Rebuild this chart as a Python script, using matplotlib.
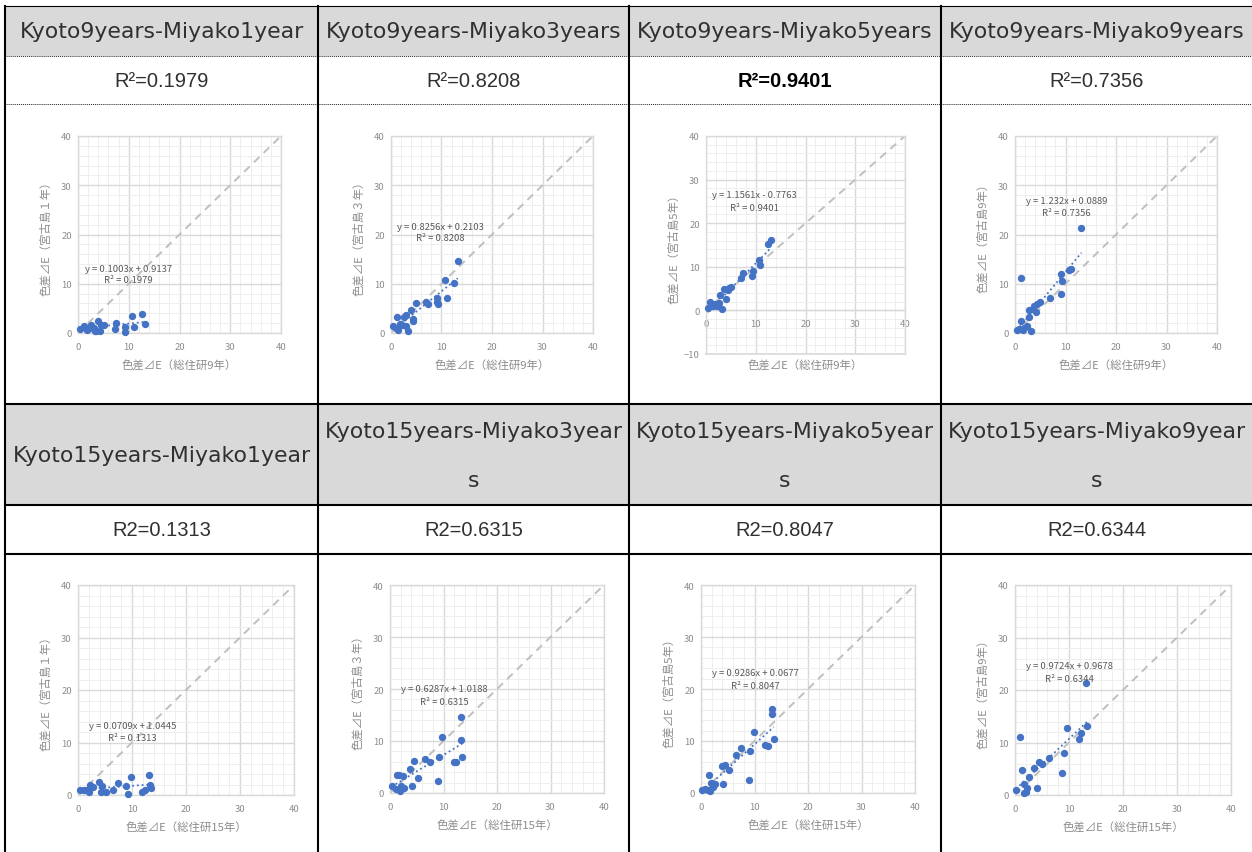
"""
Bảng so sánh màu sắc ΔE: Kyoto (9 năm / 15 năm) và Miyako (1, 3, 5, 9 năm).
Vẽ lại bảng 2 hàng x 4 cột, mỗi ô có biểu đồ tán xạ + đường xu hướng.
"""

import numpy as np
import matplotlib
matplotlib.use("Agg")
import matplotlib.pyplot as plt

plt.rcParams["font.family"] = ["Noto Sans CJK JP", "DejaVu Sans"]

W, H = 1252, 853

# --- Table text ---
HEADERS_TOP = ["Kyoto9years-Miyako1year", "Kyoto9years-Miyako3years",
               "Kyoto9years-Miyako5years", "Kyoto9years-Miyako9years"]
HEADERS_BOTTOM = [["Kyoto15years-Miyako1year"],
                  ["Kyoto15years-Miyako3year", "s"],
                  ["Kyoto15years-Miyako5year", "s"],
                  ["Kyoto15years-Miyako9year", "s"]]
R2_TOP = ["R²=0.1979", "R²=0.8208", "R²=0.9401", "R²=0.7356"]
R2_BOTTOM = ["R2=0.1313", "R2=0.6315", "R2=0.8047", "R2=0.6344"]

# --- Chart data ---
K9_M1_X = [0.33, 1.2, 1.5, 1.8, 2.3, 2.6, 3.2, 3.3, 3.6, 3.9, 4.3, 4.5, 5.1,
           7.2, 7.4, 9.3, 9.3, 10.7, 11.05, 12.6, 13.2]
K9_M1_Y = [0.8, 1.35, 1.0, 0.7, 1.1, 1.6, 1.1, 0.5, 0.5, 2.4, 0.5, 1.6, 1.7,
           0.8, 2.1, 1.2, 0.3, 3.4, 1.3, 3.9, 1.9]

K9_M3_X = [0.46, 0.9, 1.25, 1.45, 1.7, 2.2, 2.6, 2.9, 2.9, 3.3, 3.9, 4.3, 4.3,
           5.0, 6.9, 7.4, 9.2, 9.2, 9.35, 10.7, 11.05, 12.5, 13.2]
K9_M3_Y = [1.35, 1.1, 3.25, 0.7, 1.9, 1.55, 3.25, 3.6, 1.35, 0.4, 4.6, 2.9, 2.4,
           6.15, 6.3, 5.95, 7.1, 6.2, 5.95, 10.7, 7.04, 10.15, 14.6]

K9_M5_X = [0.33, 0.87, 1.34, 1.8, 2.2, 2.7, 2.8, 3.2, 3.7, 4.0, 4.35, 4.7, 5.0,
           7.0, 7.4, 9.2, 9.4, 10.6, 10.9, 12.5, 13.1]
K9_M5_Y = [0.6, 1.85, 0.9, 1.4, 0.9, 1.75, 3.45, 0.25, 5.0, 2.6, 4.6, 5.15, 5.3,
           7.5, 8.5, 7.9, 9.05, 11.6, 10.35, 15.2, 16.1]

K9_M9_X = [0.33, 0.86, 1.2, 1.2, 1.5, 1.8, 2.45, 2.7, 2.8, 3.1, 3.5, 3.8, 4.2,
           4.3, 4.96, 6.9, 9.1, 9.1, 9.4, 10.6, 11.0, 13.16]
K9_M9_Y = [0.7, 0.8, 11.1, 2.4, 0.55, 1.1, 1.35, 3.25, 4.6, 0.35, 4.8, 5.4, 4.2,
           5.8, 6.2, 7.04, 11.9, 8.0, 10.55, 12.85, 13.05, 21.4]

K15_M1_X = [0.3, 1.1, 1.7, 2.0, 2.3, 2.7, 3.8, 4.2, 4.5, 5.1, 6.5, 7.4, 8.8,
            9.2, 9.8, 11.9, 12.4, 13.2, 13.3, 13.6]
K15_M1_Y = [0.9, 0.9, 1.0, 0.6, 1.9, 1.5, 2.4, 0.6, 1.8, 0.6, 0.9, 2.2, 1.7,
            0.25, 3.4, 0.6, 1.0, 3.9, 2.0, 1.3]

K15_M3_X = [0.3, 1.06, 1.37, 1.75, 1.8, 2.05, 2.37, 2.6, 3.74, 4.1, 4.4, 5.2,
            6.5, 7.4, 8.9, 9.2, 9.8, 11.9, 12.4, 13.3, 13.3, 13.5]
K15_M3_Y = [1.3, 0.77, 3.5, 3.4, 0.4, 1.4, 3.2, 1.0, 4.7, 1.3, 6.1, 2.8,
            6.5, 5.9, 2.4, 7.0, 10.8, 6.0, 5.9, 14.6, 10.1, 7.0]

K15_M5_X = [0.25, 0.75, 1.25, 1.43, 1.75, 1.87, 2.24, 2.6, 3.86, 4.17, 4.5,
            5.17, 6.5, 7.5, 9.0, 9.2, 9.84, 12.0, 12.46, 13.27, 13.27, 13.6]
K15_M5_Y = [0.64, 0.77, 0.5, 3.5, 0.4, 2.0, 1.15, 1.8, 5.1, 1.66, 5.37,
            4.47, 7.4, 8.7, 2.56, 8.0, 11.7, 9.2, 8.95, 16.1, 15.2, 10.3]

K15_M9_X = [0.19, 0.93, 1.3, 1.67, 1.67, 2.04, 2.16, 2.53, 3.52, 4.0, 4.4,
            4.94, 6.24, 8.78, 9.08, 9.7, 11.93, 12.3, 13.16, 13.4]
K15_M9_Y = [0.9, 11.05, 4.7, 2.16, 0.38, 0.63, 1.4, 3.43, 5.2, 1.4, 6.35,
            5.97, 6.98, 4.2, 8.0, 12.8, 10.67, 11.8, 21.3, 13.1]

SLOPES = [0.1003, 0.8256, 1.1561, 1.232, 0.0709, 0.6287, 0.9286, 0.9724]
INTERCEPTS = [0.9137, 0.2103, -0.7763, 0.0889, 1.0445, 1.0188, 0.0677, 0.9678]
R2_VALUES = [0.1979, 0.8208, 0.9401, 0.7356, 0.1313, 0.6315, 0.8047, 0.6344]
# equation label anchor (x, y of first line, y of second line) in data units
EQ_POS = [(9.9, 13.1, 10.9), (9.75, 21.6, 19.3), (9.8, 26.5, 23.6), (10.2, 26.9, 24.5),
          (10.1, 13.3, 10.9), (10.1, 20.0, 17.6), (10.2, 23.2, 20.6), (10.0, 24.7, 22.2)]
Y_LABELS = ["色差⊿E（宮古島１年）", "色差⊿E（宮古島３年）", "色差⊿E（宮古島5年）", "色差⊿E（宮古島9年）",
            "色差⊿E（宮古島１年）", "色差⊿E（宮古島３年）", "色差⊿E（宮古島5年）", "色差⊿E（宮古島9年）"]
X_LABELS = ["色差⊿E（総住研9年）"] * 4 + ["色差⊿E（総住研15年）"] * 4
Y_MIN = [0, 0, -10, 0, 0, 0, 0, 0]

SERIES = [(K9_M1_X, K9_M1_Y), (K9_M3_X, K9_M3_Y), (K9_M5_X, K9_M5_Y), (K9_M9_X, K9_M9_Y),
          (K15_M1_X, K15_M1_Y), (K15_M3_X, K15_M3_Y), (K15_M5_X, K15_M5_Y), (K15_M9_X, K15_M9_Y)]

# --- Layout (pixels) ---
COL_X = [5, 318, 629, 941, 1252]
ROW_Y = [7, 57, 105, 405, 506, 555, 853]
# plot area (left, right, top, bottom) of each chart
CHART_BOX = [(78, 281, 137, 334), (391, 593, 137, 334), (706, 905, 137, 355), (1015, 1217, 137, 334),
             (78, 294, 586, 796), (390, 604, 586, 794), (701, 915, 586, 794), (1015, 1231, 586, 796)]

GRAY_FILL = "#d9d9d9"
TEXT_DARK = "#303030"
AXIS_TEXT = "#8c8c8c"
BLUE = "#4472C4"

fig = plt.figure(figsize=(W / 100, H / 100), dpi=100)
bg = fig.add_axes([0, 0, 1, 1])
bg.set_xlim(0, W)
bg.set_ylim(H, 0)
bg.axis("off")

# gray header rows
for y0, y1 in [(ROW_Y[0], ROW_Y[1]), (ROW_Y[3], ROW_Y[4])]:
    bg.add_patch(plt.Rectangle((COL_X[0], y0), COL_X[-1] - COL_X[0], y1 - y0,
                               color=GRAY_FILL, lw=0, zorder=0))

# horizontal rules
bg.plot([COL_X[0], W], [ROW_Y[0], ROW_Y[0]], color="black", lw=0.8)
for y in (ROW_Y[1], ROW_Y[2]):
    bg.plot([COL_X[0], W], [y, y], color="#222222", lw=0.7, ls=(0, (1, 1)))
for y in (ROW_Y[3], ROW_Y[4], ROW_Y[5]):
    bg.plot([COL_X[0], W], [y, y], color="black", lw=1.5)
# vertical rules
for x in COL_X[:-1]:
    bg.plot([x, x], [ROW_Y[0], H], color="black", lw=1.5)

centers = [(COL_X[i] + COL_X[i + 1]) / 2 for i in range(4)]
for i, c in enumerate(centers):
    bg.text(c, (ROW_Y[0] + ROW_Y[1]) / 2, HEADERS_TOP[i], ha="center", va="center",
            fontsize=15.8, color=TEXT_DARK, family=["DejaVu Sans"])
    bold = i == 2
    bg.text(c, (ROW_Y[1] + ROW_Y[2]) / 2, R2_TOP[i], ha="center", va="center",
            fontsize=14.5, color="black" if bold else TEXT_DARK,
            fontweight="bold" if bold else "normal", family=["Liberation Sans"])
    lines = HEADERS_BOTTOM[i]
    if len(lines) == 1:
        ys = [(ROW_Y[3] + ROW_Y[4]) / 2]
    else:
        ys = [432, 481]
    for txt, yy in zip(lines, ys):
        bg.text(c, yy, txt, ha="center", va="center", fontsize=15.8,
                color=TEXT_DARK, family=["DejaVu Sans"])
    bg.text(c, (ROW_Y[4] + ROW_Y[5]) / 2, R2_BOTTOM[i], ha="center", va="center",
            fontsize=14.5, color=TEXT_DARK, family=["Liberation Sans"])


def fmt_eq(slope, intercept):
    s = f"{slope:.4f}".rstrip("0")
    b = f"{abs(intercept):.4f}".rstrip("0")
    sign = "+" if intercept >= 0 else "-"
    return f"y = {s}x {sign} {b}"


for k, (xs, ys) in enumerate(SERIES):
    left, right, top, bottom = CHART_BOX[k]
    ax = fig.add_axes([left / W, 1 - bottom / H, (right - left) / W, (bottom - top) / H])
    ymin = Y_MIN[k]
    ax.set_xlim(0, 40)
    ax.set_ylim(ymin, 40)
    ax.set_xticks(range(0, 41, 10))
    ax.set_yticks(range(ymin, 41, 10))
    ax.set_xticks(np.arange(0, 41, 2), minor=True)
    ax.set_yticks(np.arange(ymin, 41, 2), minor=True)
    ax.grid(which="major", color="#d9d9d9", lw=1.0)
    ax.grid(which="minor", color="#eeeeee", lw=0.7)
    ax.set_axisbelow(True)
    ax.tick_params(which="both", length=0, labelsize=6.8, labelcolor=AXIS_TEXT)
    ax.tick_params(axis="x", pad=6.2)
    ax.tick_params(axis="y", pad=4.5)
    for s in ax.spines.values():
        s.set_color("#d9d9d9")
        s.set_linewidth(1.0)
    if ymin < 0:
        ax.spines["bottom"].set_position(("data", 0))
        ax.axhline(ymin, color="#d9d9d9", lw=1.2, clip_on=False, zorder=0.5)

    ax.plot([0, 40], [0, 40], color="#bfbfbf", lw=1.4, ls=(0, (4, 3)), zorder=2)
    xx = np.array([min(xs), max(xs)])
    ax.plot(xx, SLOPES[k] * xx + INTERCEPTS[k], color=BLUE, lw=1.3, ls=":", zorder=2)
    ax.scatter(xs, ys, s=28, color=BLUE, linewidths=0, zorder=3, clip_on=False)

    ex, ey1, ey2 = EQ_POS[k]
    ax.text(ex, ey1, fmt_eq(SLOPES[k], INTERCEPTS[k]), ha="center", va="center",
            fontsize=6.8, color="#595959", zorder=4)
    ax.text(ex, ey2, f"R² = {R2_VALUES[k]:.4f}", ha="center", va="center",
            fontsize=6.8, color="#595959", zorder=4)

    # axis titles placed in pixel space
    x_off = 11 if ymin < 0 else 32
    bg.text((left + right) / 2, bottom + x_off, X_LABELS[k], ha="center", va="center",
            fontsize=8.2, color=AXIS_TEXT)
    bg.text(left - 32, (top + bottom) / 2, Y_LABELS[k], ha="center", va="center",
            rotation=90, fontsize=8.2, color=AXIS_TEXT)

fig.savefig("out.png", dpi=100)
